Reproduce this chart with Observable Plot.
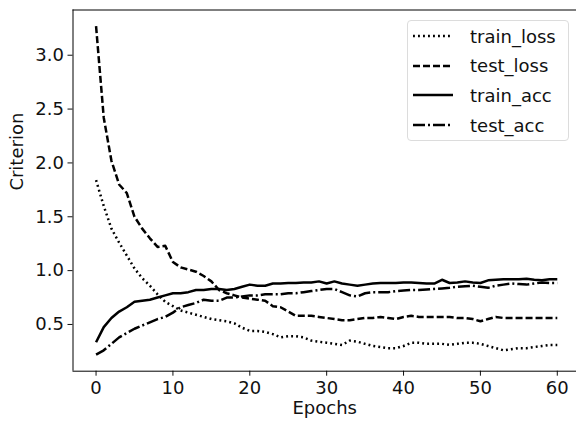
<!DOCTYPE html>
<html>
<head>
<meta charset="utf-8">
<script src="https://cdn.jsdelivr.net/npm/d3@7"></script>
<script src="https://cdn.jsdelivr.net/npm/@observablehq/plot@0.6"></script>
<style>
  html, body { margin: 0; padding: 0; background: #fff; }
  #wrap { position: relative; width: 576px; height: 421px; font-family: "DejaVu Sans", sans-serif; }
  #legend { position: absolute; left: 407px; top: 20px; width: 162px; height: 121px; box-sizing: border-box;
    border: 1px solid #dcdcdc; border-radius: 4px; background: rgba(255,255,255,0.85); }
  .row { position: absolute; left: 0; height: 30px; display: flex; align-items: center; }
  .row svg { margin-left: 5px; }
  .row span { position: absolute; left: 62px; font-size: 18px; color: #111; white-space: nowrap; }
</style>
</head>
<body>
<div id="wrap"></div>
<script>
const epochs = d3.range(0, 61);
const seriesNames = ["train_loss", "test_loss", "train_acc", "test_acc"];
const xTicks = [0, 10, 20, 30, 40, 50, 60];
const yTicks = [0.5, 1.0, 1.5, 2.0, 2.5, 3.0];

const trainLoss = [1.84, 1.60, 1.39, 1.26, 1.14, 1.02, 0.93, 0.86, 0.78, 0.71,
  0.67, 0.63, 0.61, 0.59, 0.57, 0.55, 0.54, 0.53, 0.51, 0.47,
  0.44, 0.44, 0.43, 0.41, 0.38, 0.39, 0.39, 0.38, 0.35, 0.34,
  0.33, 0.32, 0.31, 0.35, 0.34, 0.32, 0.30, 0.29, 0.28, 0.28,
  0.30, 0.33, 0.33, 0.32, 0.32, 0.32, 0.31, 0.32, 0.33, 0.33,
  0.32, 0.30, 0.28, 0.26, 0.27, 0.28, 0.28, 0.29, 0.30, 0.31, 0.31];
const testLoss = [3.27, 2.42, 2.02, 1.80, 1.72, 1.50, 1.39, 1.30, 1.22, 1.23,
  1.08, 1.03, 1.01, 0.99, 0.95, 0.90, 0.82, 0.79, 0.77, 0.75,
  0.74, 0.73, 0.72, 0.67, 0.66, 0.62, 0.58, 0.58, 0.58, 0.57,
  0.56, 0.55, 0.54, 0.54, 0.55, 0.56, 0.56, 0.57, 0.56, 0.55,
  0.57, 0.58, 0.57, 0.57, 0.57, 0.57, 0.57, 0.56, 0.56, 0.55,
  0.53, 0.55, 0.57, 0.56, 0.56, 0.56, 0.56, 0.56, 0.56, 0.56, 0.56];
const trainAcc = [0.335, 0.475, 0.56, 0.62, 0.66, 0.71, 0.72, 0.73, 0.75, 0.77,
  0.79, 0.79, 0.80, 0.82, 0.82, 0.83, 0.83, 0.82, 0.83, 0.85,
  0.87, 0.86, 0.86, 0.88, 0.88, 0.885, 0.885, 0.89, 0.89, 0.90,
  0.88, 0.90, 0.88, 0.87, 0.86, 0.87, 0.88, 0.885, 0.885, 0.885,
  0.89, 0.89, 0.885, 0.88, 0.88, 0.915, 0.885, 0.89, 0.90, 0.89,
  0.885, 0.91, 0.915, 0.92, 0.92, 0.92, 0.925, 0.915, 0.91, 0.92, 0.92];
const testAcc = [0.22, 0.26, 0.32, 0.38, 0.42, 0.46, 0.49, 0.52, 0.55, 0.57,
  0.61, 0.66, 0.68, 0.70, 0.73, 0.72, 0.72, 0.75, 0.75, 0.76,
  0.77, 0.77, 0.78, 0.78, 0.78, 0.79, 0.79, 0.80, 0.81, 0.82,
  0.83, 0.83, 0.80, 0.77, 0.76, 0.79, 0.80, 0.80, 0.80, 0.81,
  0.815, 0.82, 0.82, 0.825, 0.83, 0.835, 0.84, 0.85, 0.855, 0.86,
  0.85, 0.84, 0.86, 0.87, 0.88, 0.875, 0.87, 0.88, 0.89, 0.885, 0.885];

const seriesValues = [trainLoss, testLoss, trainAcc, testAcc];
const dashes = {train_loss: "1.9,3.1", test_loss: "7,3", train_acc: null, test_acc: "12,3,2,3"};

const xDomain = [-3, 62.5];
const yDomain = [0.066, 3.42];

const lineMarks = seriesNames.map((name, i) =>
  Plot.line(epochs.map((e, j) => ({epoch: e, value: seriesValues[i][j]})), {
    x: "epoch", y: "value", stroke: "black", strokeWidth: 2.5,
    strokeDasharray: dashes[name], strokeLinecap: "butt", strokeLinejoin: "round"
  })
);

const chart = Plot.plot({
  width: 576,
  height: 421,
  marginLeft: 72.5,
  marginRight: 0,
  marginTop: 9.5,
  marginBottom: 50.3,
  style: {fontFamily: "DejaVu Sans, sans-serif", fontSize: "18px", color: "#111", background: "white", overflow: "visible"},
  x: {domain: xDomain},
  y: {domain: yDomain},
  marks: [
    Plot.axisX({ticks: xTicks, tickSize: 5, tickPadding: 5, fontSize: 18, label: null, tickFormat: d3.format("d")}),
    Plot.axisY({ticks: yTicks, tickSize: 5, tickPadding: 4, fontSize: 18, label: null, tickFormat: d3.format(".1f")}),
    ...lineMarks,
    Plot.ruleX([xDomain[0]], {stroke: "black", strokeWidth: 1}),
    Plot.ruleY([yDomain[0], yDomain[1]], {stroke: "black", strokeWidth: 1}),
    Plot.text(["Epochs"], {frameAnchor: "bottom", dy: 43, fontSize: 18, fill: "#111"}),
    Plot.text(["Criterion"], {frameAnchor: "left", dx: -56, rotate: -90, fontSize: 18, fill: "#111"})
  ]
});

const wrap = document.getElementById("wrap");
wrap.appendChild(chart);

// legend
const legend = document.createElement("div");
legend.id = "legend";
seriesNames.forEach((name, i) => {
  const row = document.createElement("div");
  row.className = "row";
  row.style.top = (i * 29.7 + 0) + "px";
  const svg = d3.create("svg").attr("width", 42).attr("height", 30);
  svg.append("line").attr("x1", 0).attr("x2", 40).attr("y1", 15).attr("y2", 15)
    .attr("stroke", "black").attr("stroke-width", 2.5)
    .attr("stroke-dasharray", dashes[name]);
  row.appendChild(svg.node());
  const span = document.createElement("span");
  span.textContent = name;
  row.appendChild(span);
  legend.appendChild(row);
});
wrap.appendChild(legend);
</script>
</body>
</html>
